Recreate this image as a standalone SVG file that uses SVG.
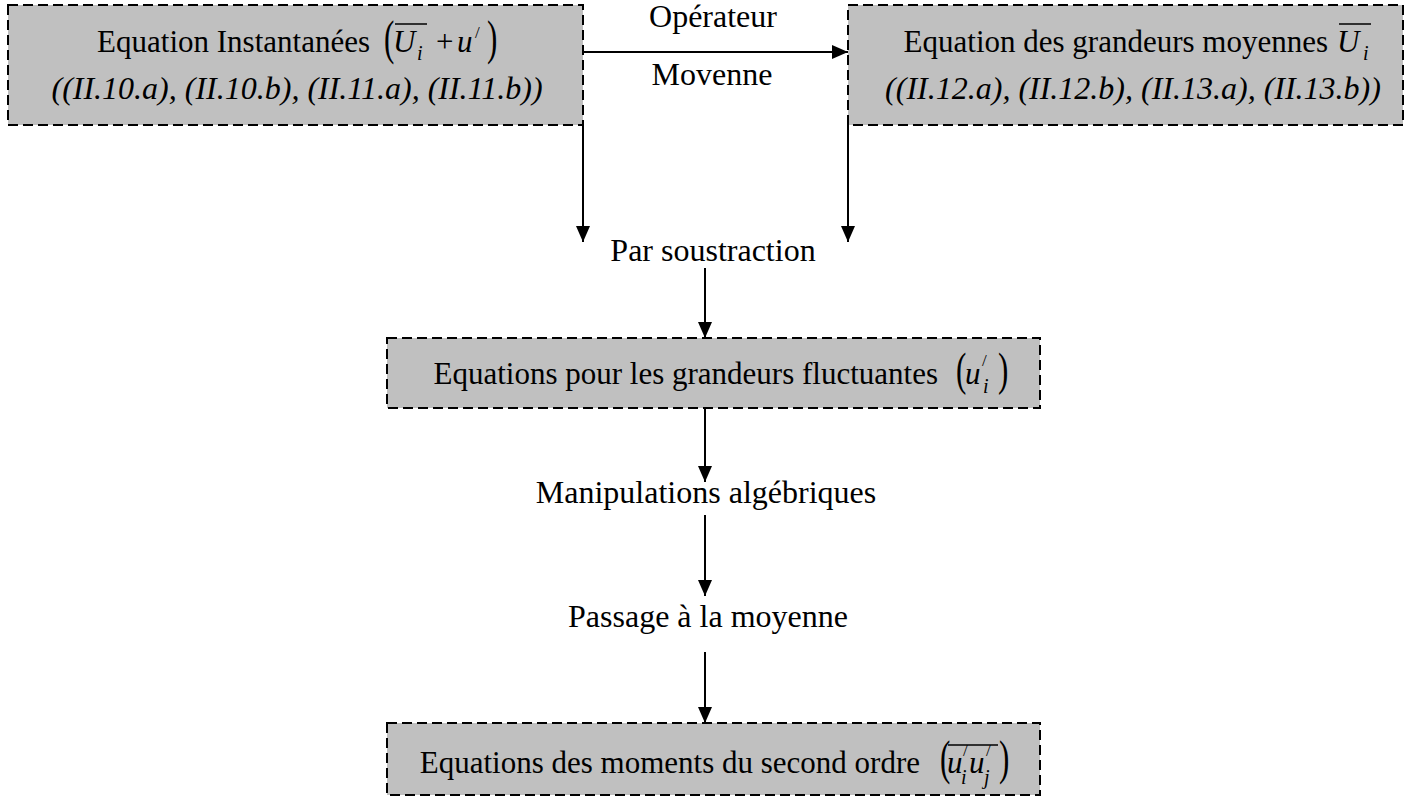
<svg xmlns="http://www.w3.org/2000/svg" width="1410" height="801" viewBox="0 0 1410 801">
  <defs>
    <marker id="arrow" viewBox="0 0 16 14" refX="16" refY="7" markerWidth="16" markerHeight="14" markerUnits="userSpaceOnUse" orient="auto">
      <path d="M0,0 L16,7 L0,14 Z" fill="#000"/>
    </marker>
    <style>
      .box { fill: #c0c0c0; stroke: #000; stroke-width: 2; stroke-dasharray: 10 5; }
      .t { font-family: "Liberation Serif", "Times New Roman", serif; font-size: 31px; fill: #000; }
      .lbl { font-size: 32px; }
      .ref { font-size: 32px; font-style: italic; }
      .it { font-style: italic; }
      .c { text-anchor: middle; }
      .e { text-anchor: end; }
      .par { font-family: "Liberation Serif", "Times New Roman", serif; font-size: 31px; fill: #000; }
      .sub { font-size: 20px; font-style: italic; }
      .pr { font-size: 17px; }
      .bar { stroke: #000; stroke-width: 1.5; }
      .conn { stroke: #000; stroke-width: 2; fill: none; }
    </style>
  </defs>

  <rect width="1410" height="801" fill="#fff"/>

  <!-- connectors -->
  <g id="connectors">
    <line class="conn" x1="583" y1="52" x2="848" y2="52" marker-end="url(#arrow)"/>
    <line class="conn" x1="583" y1="125" x2="583" y2="242" marker-end="url(#arrow)"/>
    <line class="conn" x1="848" y1="125" x2="848" y2="242" marker-end="url(#arrow)"/>
    <line class="conn" x1="705" y1="268" x2="705" y2="338" marker-end="url(#arrow)"/>
    <line class="conn" x1="705" y1="408" x2="705" y2="482" marker-end="url(#arrow)"/>
    <line class="conn" x1="705" y1="515" x2="705" y2="596" marker-end="url(#arrow)"/>
    <line class="conn" x1="705" y1="652" x2="705" y2="723" marker-end="url(#arrow)"/>
  </g>

  <!-- connector labels -->
  <g id="labels">
    <text class="t lbl c" x="713" y="27">Opérateur</text>
    <text class="t lbl c" x="712" y="85">Movenne</text>
    <text class="t lbl c" x="713" y="261">Par soustraction</text>
    <text class="t lbl c" x="706" y="503">Manipulations algébriques</text>
    <text class="t lbl c" x="708" y="627">Passage à la moyenne</text>
  </g>

  <!-- instantaneous equations -->
  <g id="node-instant">
    <rect class="box" x="8" y="5" width="575" height="120"/>
    <text class="t e" x="370" y="52">Equation Instantanées</text>
    <text class="par" transform="translate(384,54) scale(1,1.6)">(</text>
    <line class="bar" x1="395" y1="24" x2="427" y2="24"/>
    <text class="t it" x="393" y="52">U</text>
    <text class="t sub" x="417" y="60">i</text>
    <text class="t" x="436" y="52">+</text>
    <text class="t it" x="457" y="52">u</text>
    <text class="t pr" x="475" y="38">/</text>
    <text class="par" transform="translate(487,54) scale(1,1.6)">)</text>
    <text class="t ref c" x="297" y="99">((II.10.a), (II.10.b), (II.11.a), (II.11.b))</text>
  </g>

  <!-- mean equations -->
  <g id="node-mean">
    <rect class="box" x="848" y="5" width="555" height="120"/>
    <text class="t e" x="1328" y="52">Equation des grandeurs moyennes</text>
    <line class="bar" x1="1339" y1="24" x2="1371" y2="24"/>
    <text class="t it" x="1337" y="52">U</text>
    <text class="t sub" x="1363" y="60">i</text>
    <text class="t ref c" x="1133" y="99">((II.12.a), (II.12.b), (II.13.a), (II.13.b))</text>
  </g>

  <!-- fluctuating equations -->
  <g id="node-fluct">
    <rect class="box" x="387" y="338" width="653" height="70"/>
    <text class="t e" x="938" y="384">Equations pour les grandeurs fluctuantes</text>
    <text class="par" transform="translate(956,385) scale(1,1.5)">(</text>
    <text class="t it" x="965" y="384">u</text>
    <text class="t pr" x="982" y="366">/</text>
    <text class="t sub" x="983" y="393">i</text>
    <text class="par" transform="translate(998,385) scale(1,1.5)">)</text>
  </g>

  <!-- second-order moments -->
  <g id="node-moments">
    <rect class="box" x="387" y="723" width="653" height="72"/>
    <text class="t e" x="920" y="773">Equations des moments du second ordre</text>
    <text class="par" transform="translate(940,774) scale(1,1.55)">(</text>
    <line class="bar" x1="948" y1="745" x2="998" y2="745"/>
    <text class="t it" x="947" y="773">u</text>
    <text class="t pr" x="963" y="756">/</text>
    <text class="t sub" x="961" y="784">i</text>
    <text class="t it" x="969" y="773">u</text>
    <text class="t pr" x="986" y="756">/</text>
    <text class="t sub" x="984" y="784">j</text>
    <text class="par" transform="translate(999,774) scale(1,1.55)">)</text>
  </g>
</svg>
